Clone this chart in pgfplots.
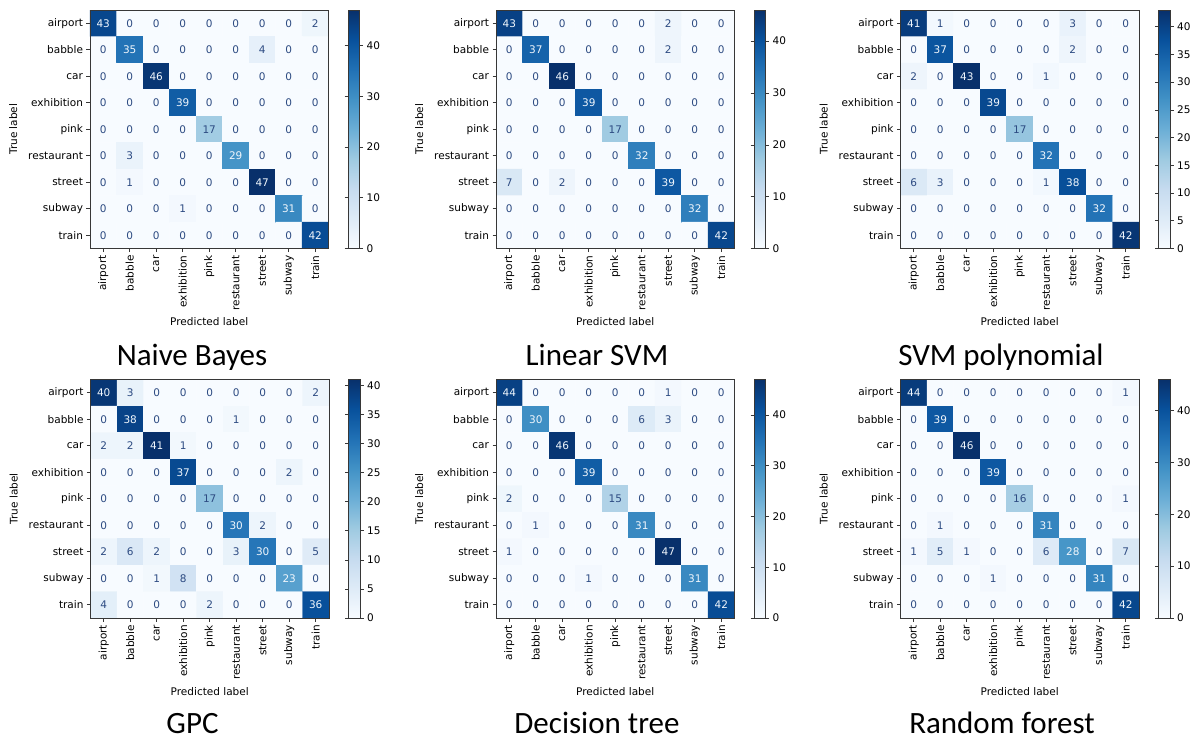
\documentclass[border=0pt]{standalone}
\usepackage{fontspec}
\setmainfont{DejaVu Sans}
\newfontfamily\titlefont{Carlito}
\usepackage{pgfplots}
\pgfplotsset{compat=1.18}
\usepackage{pgfplotstable}

\definecolor{numdark}{RGB}{45,75,130}
\definecolor{cellwhite}{RGB}{240,246,252}
\definecolor{framegray}{RGB}{55,55,55}
\newcommand\lf{\fontsize{10.5}{12}\selectfont}

\pgfplotsset{
  colormap={blues}{rgb255(0cm)=(247,251,255) rgb255(1cm)=(222,235,247) rgb255(2cm)=(198,219,239) rgb255(3cm)=(158,202,225) rgb255(4cm)=(107,174,214) rgb255(5cm)=(66,146,198) rgb255(6cm)=(33,113,181) rgb255(7cm)=(8,81,156) rgb255(8cm)=(8,48,107)},
  cmaxis/.style={
    anchor=north west,
    /pgf/number format/assume math mode=true,
    scale only axis, width=238.5pt, height=238.5pt,
    xmin=-0.5, xmax=8.5, ymin=-0.5, ymax=8.5, y dir=reverse,
    enlargelimits=false, axis on top,
    xtick={0,...,8}, ytick={0,...,8},
    xticklabels={airport,babble,car,exhibition,pink,restaurant,street,subway,train},
    yticklabels={airport,babble,car,exhibition,pink,restaurant,street,subway,train},
    xticklabel style={rotate=90, anchor=east, font=\lf},
    yticklabel style={font=\lf},
    tick align=outside, tick pos=left,
    major tick length=3.5pt,
    tick style={framegray, line width=0.6pt},
    axis line style={framegray, line width=0.7pt},
    xlabel={Predicted label}, ylabel={True label},
    xlabel style={at={(axis description cs:0.5,-0.308)}, anchor=center, font=\lf},
    ylabel style={at={(axis description cs:-0.3216,0.5)}, anchor=center, font=\lf},
    colormap name=blues, point meta min=0,
    colorbar,
    colorbar style={
      at={(parent axis.north east)}, anchor=north west, xshift=11pt,
      scale only axis, width=11.5pt, height=238.5pt,
      yticklabel pos=right, tick align=outside,
      major tick length=3.5pt, tick style={framegray, line width=0.6pt},
      axis line style={framegray, line width=0.7pt},
      yticklabel style={font=\lf},
      /pgf/number format/assume math mode=true,
    },
  },
  cellnum/.style={draw=none, mark=none, point meta=explicit,
    nodes near coords, nodes near coords align=center,
    every node near coord/.append style={font=\lf, anchor=center, inner sep=0pt}},
}

% columns: predicted (x), true (y), count (v)
\pgfplotstableread{
x y v
0 0 43
1 0 0
2 0 0
3 0 0
4 0 0
5 0 0
6 0 0
7 0 0
8 0 2
0 1 0
1 1 35
2 1 0
3 1 0
4 1 0
5 1 0
6 1 4
7 1 0
8 1 0
0 2 0
1 2 0
2 2 46
3 2 0
4 2 0
5 2 0
6 2 0
7 2 0
8 2 0
0 3 0
1 3 0
2 3 0
3 3 39
4 3 0
5 3 0
6 3 0
7 3 0
8 3 0
0 4 0
1 4 0
2 4 0
3 4 0
4 4 17
5 4 0
6 4 0
7 4 0
8 4 0
0 5 0
1 5 3
2 5 0
3 5 0
4 5 0
5 5 29
6 5 0
7 5 0
8 5 0
0 6 0
1 6 1
2 6 0
3 6 0
4 6 0
5 6 0
6 6 47
7 6 0
8 6 0
0 7 0
1 7 0
2 7 0
3 7 1
4 7 0
5 7 0
6 7 0
7 7 31
8 7 0
0 8 0
1 8 0
2 8 0
3 8 0
4 8 0
5 8 0
6 8 0
7 8 0
8 8 42
}\tabNB

\pgfplotstableread{
x y v
0 0 43
1 0 0
2 0 0
3 0 0
4 0 0
5 0 0
6 0 2
7 0 0
8 0 0
0 1 0
1 1 37
2 1 0
3 1 0
4 1 0
5 1 0
6 1 2
7 1 0
8 1 0
0 2 0
1 2 0
2 2 46
3 2 0
4 2 0
5 2 0
6 2 0
7 2 0
8 2 0
0 3 0
1 3 0
2 3 0
3 3 39
4 3 0
5 3 0
6 3 0
7 3 0
8 3 0
0 4 0
1 4 0
2 4 0
3 4 0
4 4 17
5 4 0
6 4 0
7 4 0
8 4 0
0 5 0
1 5 0
2 5 0
3 5 0
4 5 0
5 5 32
6 5 0
7 5 0
8 5 0
0 6 7
1 6 0
2 6 2
3 6 0
4 6 0
5 6 0
6 6 39
7 6 0
8 6 0
0 7 0
1 7 0
2 7 0
3 7 0
4 7 0
5 7 0
6 7 0
7 7 32
8 7 0
0 8 0
1 8 0
2 8 0
3 8 0
4 8 0
5 8 0
6 8 0
7 8 0
8 8 42
}\tabLSVM

\pgfplotstableread{
x y v
0 0 41
1 0 1
2 0 0
3 0 0
4 0 0
5 0 0
6 0 3
7 0 0
8 0 0
0 1 0
1 1 37
2 1 0
3 1 0
4 1 0
5 1 0
6 1 2
7 1 0
8 1 0
0 2 2
1 2 0
2 2 43
3 2 0
4 2 0
5 2 1
6 2 0
7 2 0
8 2 0
0 3 0
1 3 0
2 3 0
3 3 39
4 3 0
5 3 0
6 3 0
7 3 0
8 3 0
0 4 0
1 4 0
2 4 0
3 4 0
4 4 17
5 4 0
6 4 0
7 4 0
8 4 0
0 5 0
1 5 0
2 5 0
3 5 0
4 5 0
5 5 32
6 5 0
7 5 0
8 5 0
0 6 6
1 6 3
2 6 0
3 6 0
4 6 0
5 6 1
6 6 38
7 6 0
8 6 0
0 7 0
1 7 0
2 7 0
3 7 0
4 7 0
5 7 0
6 7 0
7 7 32
8 7 0
0 8 0
1 8 0
2 8 0
3 8 0
4 8 0
5 8 0
6 8 0
7 8 0
8 8 42
}\tabSVMP

\pgfplotstableread{
x y v
0 0 40
1 0 3
2 0 0
3 0 0
4 0 0
5 0 0
6 0 0
7 0 0
8 0 2
0 1 0
1 1 38
2 1 0
3 1 0
4 1 0
5 1 1
6 1 0
7 1 0
8 1 0
0 2 2
1 2 2
2 2 41
3 2 1
4 2 0
5 2 0
6 2 0
7 2 0
8 2 0
0 3 0
1 3 0
2 3 0
3 3 37
4 3 0
5 3 0
6 3 0
7 3 2
8 3 0
0 4 0
1 4 0
2 4 0
3 4 0
4 4 17
5 4 0
6 4 0
7 4 0
8 4 0
0 5 0
1 5 0
2 5 0
3 5 0
4 5 0
5 5 30
6 5 2
7 5 0
8 5 0
0 6 2
1 6 6
2 6 2
3 6 0
4 6 0
5 6 3
6 6 30
7 6 0
8 6 5
0 7 0
1 7 0
2 7 1
3 7 8
4 7 0
5 7 0
6 7 0
7 7 23
8 7 0
0 8 4
1 8 0
2 8 0
3 8 0
4 8 2
5 8 0
6 8 0
7 8 0
8 8 36
}\tabGPC

\pgfplotstableread{
x y v
0 0 44
1 0 0
2 0 0
3 0 0
4 0 0
5 0 0
6 0 1
7 0 0
8 0 0
0 1 0
1 1 30
2 1 0
3 1 0
4 1 0
5 1 6
6 1 3
7 1 0
8 1 0
0 2 0
1 2 0
2 2 46
3 2 0
4 2 0
5 2 0
6 2 0
7 2 0
8 2 0
0 3 0
1 3 0
2 3 0
3 3 39
4 3 0
5 3 0
6 3 0
7 3 0
8 3 0
0 4 2
1 4 0
2 4 0
3 4 0
4 4 15
5 4 0
6 4 0
7 4 0
8 4 0
0 5 0
1 5 1
2 5 0
3 5 0
4 5 0
5 5 31
6 5 0
7 5 0
8 5 0
0 6 1
1 6 0
2 6 0
3 6 0
4 6 0
5 6 0
6 6 47
7 6 0
8 6 0
0 7 0
1 7 0
2 7 0
3 7 1
4 7 0
5 7 0
6 7 0
7 7 31
8 7 0
0 8 0
1 8 0
2 8 0
3 8 0
4 8 0
5 8 0
6 8 0
7 8 0
8 8 42
}\tabDT

\pgfplotstableread{
x y v
0 0 44
1 0 0
2 0 0
3 0 0
4 0 0
5 0 0
6 0 0
7 0 0
8 0 1
0 1 0
1 1 39
2 1 0
3 1 0
4 1 0
5 1 0
6 1 0
7 1 0
8 1 0
0 2 0
1 2 0
2 2 46
3 2 0
4 2 0
5 2 0
6 2 0
7 2 0
8 2 0
0 3 0
1 3 0
2 3 0
3 3 39
4 3 0
5 3 0
6 3 0
7 3 0
8 3 0
0 4 0
1 4 0
2 4 0
3 4 0
4 4 16
5 4 0
6 4 0
7 4 0
8 4 1
0 5 0
1 5 1
2 5 0
3 5 0
4 5 0
5 5 31
6 5 0
7 5 0
8 5 0
0 6 1
1 6 5
2 6 1
3 6 0
4 6 0
5 6 6
6 6 28
7 6 0
8 6 7
0 7 0
1 7 0
2 7 0
3 7 1
4 7 0
5 7 0
6 7 0
7 7 31
8 7 0
0 8 0
1 8 0
2 8 0
3 8 0
4 8 0
5 8 0
6 8 0
7 8 0
8 8 42
}\tabRF

% #1 x, #2 y (top-left of matrix, px from top-left), #3 table, #4 max, #5 colorbar ticks, #6 threshold
\newcommand\cmplot[6]{%
\begin{axis}[cmaxis, at={(#1pt,-#2pt)}, point meta max=#4, colorbar style={ytick={#5}}]
\addplot[matrix plot*, mesh/cols=9, point meta=explicit]
  table[x=x, y=y, meta=v]{#3};
\addplot[cellnum, restrict expr to domain={\thisrow{v}}{-1:#6},
  every node near coord/.append style={text=numdark}]
  table[x=x, y=y, meta=v]{#3};
\addplot[cellnum, restrict expr to domain={\thisrow{v}}{#6:100},
  every node near coord/.append style={text=cellwhite}]
  table[x=x, y=y, meta=v]{#3};
\end{axis}}

\begin{document}
\begin{tikzpicture}
\useasboundingbox (0,0) rectangle (1192pt,-737pt);
\cmplot{90}{10}{\tabNB}{47}{0,10,20,30,40}{23.5}
\cmplot{496}{10}{\tabLSVM}{46}{0,10,20,30,40}{23.1}
\cmplot{900.5}{10}{\tabSVMP}{43}{0,5,10,15,20,25,30,35,40}{21.5}
\cmplot{90.5}{379.5}{\tabGPC}{41}{0,5,10,15,20,25,30,35,40}{20.5}
\cmplot{496}{379.5}{\tabDT}{47}{0,10,20,30,40}{23.5}
\cmplot{900.5}{379.5}{\tabRF}{46}{0,10,20,30,40}{23.1}
\begin{scope}[every node/.style={font=\titlefont\fontsize{31}{36}\selectfont, anchor=base, inner sep=0pt}]
\node at (192pt,-365pt) {Naive Bayes};
\node at (597pt,-365pt) {Linear SVM};
\node at (1001pt,-365pt) {SVM polynomial};
\node at (192.5pt,-733pt) {GPC};
\node at (597pt,-733pt) {Decision tree};
\node at (1002pt,-733pt) {Random forest};
\end{scope}
\end{tikzpicture}
\end{document}
